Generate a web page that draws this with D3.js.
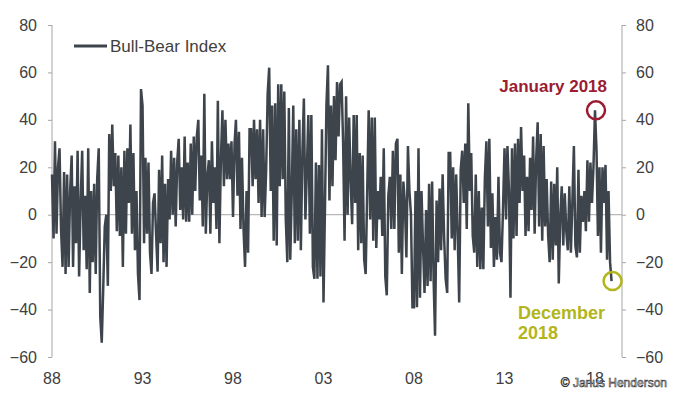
<!DOCTYPE html>
<html>
    <head>
        <meta charset="utf-8">
        <style>
        body { margin: 0; background: #fff; }
        svg { font-family: "Liberation Sans", Arial, sans-serif; }
        .tick text { font-size: 16px; fill: #404040; }
        .axis path, .axis line { stroke: #a6a6a6; }
        </style>
        <script src="https://d3js.org/d3.v7.min.js"></script>
    </head>
    <body>
        <svg width="680" height="398"></svg>
    <script>

        // monthly readings of the Bull-Bear Index, one row per year
        var startYear = 1988;
        var monthlyValues = [
            [17, -10, 31, -8, 20, 28, -6, -22, 18, -25, 17, -22],   // 1988
            [10, 25, -22, 12, -12, 27, -26, 5, 27, -15, 8, -23],
            [28, -33, 10, -20, 13, -25, 15, 28, -43, -54, -30, -5], // 1990
            [0, -30, 34, 10, 38, 12, 26, -7, 25, -9, 20, -22],
            [27, -8, 28, 5, 38, -8, 26, -15, 10, -25, -36, 53],
            [46, -12, 24, -8, 22, -16, -25, 5, 9, -8, -24, 19],
            [-12, 25, -20, 13, -22, 15, -2, 27, 0, 24, -5, 22],
            [32, 2, 20, -2, 33, -3, 22, -3, 30, 0, 33, 10],         // 1995
            [33, 40, 6, 25, -5, 51, -8, 16, 23, -8, 31, 5],
            [20, -6, 48, -12, 23, 44, 12, 40, 15, 30, 15, 31],
            [-1, 30, 40, 8, 35, -6, 24, -6, -22, 10, -16, 36],
            [36, 12, 40, 15, 36, 5, 40, -1, 36, -1, 19, 51],
            [62, 10, 46, -11, 47, -13, 55, 12, 55, 15, 52, -2],     // 2000
            [-20, 45, -19, 10, 46, -12, 36, -11, 40, -15, 26, 49],
            [-2, 20, 42, -8, 42, -22, -27, 22, -27, 21, -26, 36],
            [-37, 5, 46, 63, 6, 46, 12, 50, 23, 56, 33, 55],
            [56, 30, -11, 50, 0, 41, 15, -4, 42, 5, 42, -15],
            [26, -12, 25, -19, -25, 10, 44, -2, 41, -11, 41, -14],  // 2005
            [10, -2, 16, -9, 28, -26, -34, 8, 16, -6, 27, -6],
            [30, 32, -16, 17, -25, 14, 5, -18, 29, 10, 0, -39],
            [-39, 10, -39, 28, -35, 10, -13, -33, 2, -30, 13, -28],
            [14, -28, -51, 6, -20, 11, -15, 17, -10, -27, -33, 26],
            [26, -10, 20, -15, 17, -8, -37, 19, 27, 5, 30, -6],     // 2010
            [47, 10, 26, -9, -16, 17, -22, 10, -23, 3, -23, 15],
            [31, -5, 32, -14, 9, -22, -1, -19, 16, -16, -20, 2],
            [28, -2, 29, 10, -35, 28, -10, 30, -9, 32, 5, 37],
            [10, 25, -9, 16, -7, 24, 2, 33, -8, 23, 39, -5],
            [34, -11, 29, -5, 15, -9, -20, 14, -19, 13, -13, 20],   // 2015
            [-29, 0, 12, -13, 9, -7, -15, 12, -16, 5, 29, -13],
            [-18, 19, -16, 8, -3, 10, -7, 23, -3, 22, 5, 20],
            [44, 27, -9, 20, -16, 20, 5, 21, -19, 10, -20, -28]     // 2018
        ];
        var yTicks = [-60, -40, -20, 0, 20, 40, 60, 80];
        var xTickYears = [1988, 1993, 1998, 2003, 2008, 2013, 2018];
        var xTickLabels = ["88", "93", "98", "03", "08", "13", "18"];
        var seriesName = "Bull-Bear Index";
        var highlights = [
            { label: ["January 2018"], year: 2018, month: 0, color: "#9b1c31" },
            { label: ["December", "2018"], year: 2018, month: 11, color: "#b3b51c" }
        ];

        var data = [];
        monthlyValues.forEach(function(row, i) {
            row.forEach(function(v, m) {
                data.push({ date: new Date(startYear + i, m, 1), value: v });
            });
        });

        var svg = d3.select("svg");
        var left = 52, right = 622;

        var x = d3.scaleTime()
                  .domain([new Date(1988, 0, 1), new Date(2018, 0, 1)])
                  .range([52, 595]);

        var y = d3.scaleLinear()
                  .domain([-60, 80])
                  .range([357, 25]);

        // axes
        svg.append("g")
           .attr("class", "axis")
           .attr("transform", "translate(" + left + ",0)")
           .call(d3.axisLeft(y).tickValues(yTicks).tickSize(4).tickPadding(11));

        svg.append("g")
           .attr("class", "axis")
           .attr("transform", "translate(" + right + ",0)")
           .call(d3.axisRight(y).tickValues(yTicks).tickSize(4).tickPadding(10));

        svg.selectAll(".axis .domain").attr("d", function() {
            return "M0," + y(80) + "V" + y(-60);
        });

        // zero line
        svg.append("line")
           .attr("x1", left).attr("x2", right)
           .attr("y1", y(0)).attr("y2", y(0))
           .attr("stroke", "#a6a6a6")
           .attr("stroke-width", 1);

        // x labels, no axis line
        svg.append("g")
           .selectAll("text")
           .data(xTickYears)
           .enter().append("text")
           .attr("x", function(d) { return x(new Date(d, 0, 1)); })
           .attr("y", 378)
           .attr("dy", "0.35em")
           .attr("text-anchor", "middle")
           .attr("font-size", 16)
           .attr("fill", "#404040")
           .text(function(d, i) { return xTickLabels[i]; });

        var line = d3.line()
                     .x(function(d) { return x(d.date); })
                     .y(function(d) { return y(d.value); });

        svg.append("path")
           .datum(data)
           .attr("d", line)
           .attr("fill", "none")
           .attr("stroke", "#3d444b")
           .attr("stroke-width", 2.5)
           .attr("stroke-linejoin", "miter");

        // legend
        svg.append("line")
           .attr("x1", 74).attr("x2", 107)
           .attr("y1", 46).attr("y2", 46)
           .attr("stroke", "#3d444b")
           .attr("stroke-width", 3);
        svg.append("text")
           .attr("x", 110)
           .attr("y", 52)
           .attr("font-size", 17)
           .attr("fill", "#404040")
           .text(seriesName);

        // highlighted points
        highlights.forEach(function(h) {
            var d = data.find(function(p) {
                return p.date.getFullYear() == h.year && p.date.getMonth() == h.month;
            });
            var cx = x(d.date), cy = y(d.value);
            svg.append("circle")
               .attr("cx", cx + 1)
               .attr("cy", cy)
               .attr("r", 9)
               .attr("fill", "none")
               .attr("stroke", h.color)
               .attr("stroke-width", 2.5);

            var t = svg.append("text")
                       .attr("font-size", h.label.length > 1 ? 18 : 17)
                       .attr("font-weight", "bold")
                       .attr("fill", h.color);
            if (h.label.length > 1) {
                t.attr("x", 518).attr("y", 319);
                h.label.forEach(function(s, i) {
                    t.append("tspan").attr("x", 518).attr("dy", i == 0 ? 0 : 20).text(s);
                });
            } else {
                t.attr("x", 607).attr("y", 92).attr("text-anchor", "end").text(h.label[0]);
            }
        });

        // watermark, drawn as outlined letters
        svg.append("text")
           .attr("x", 667)
           .attr("y", 387)
           .attr("text-anchor", "end")
           .attr("font-size", 12)
           .attr("fill", "#fff")
           .attr("stroke", "#333")
           .attr("stroke-width", 0.6)
           .text("\u00a9 Janus Henderson");

    </script>
    </body>
</html>
